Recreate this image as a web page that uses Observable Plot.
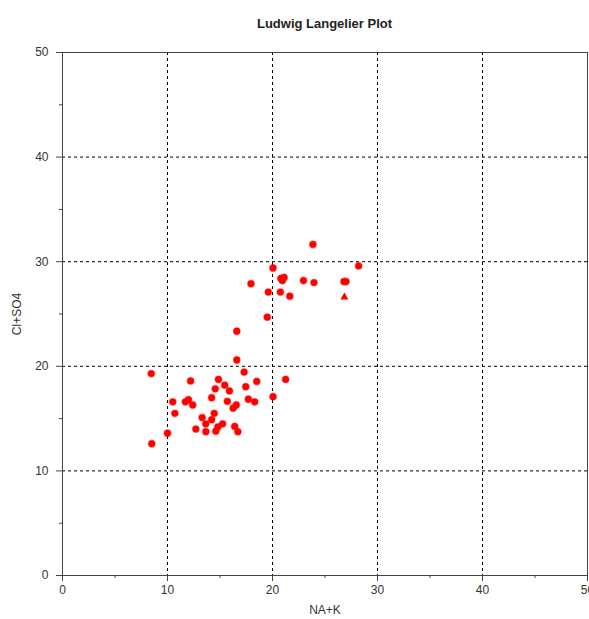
<!DOCTYPE html>
<html>
<head>
<meta charset="utf-8">
<script src="https://cdn.jsdelivr.net/npm/d3@7"></script>
<script src="https://cdn.jsdelivr.net/npm/@observablehq/plot@0.6"></script>
<style>
  html, body { margin: 0; padding: 0; background: #fff; overflow: hidden; }
  #wrap { position: relative; width: 589px; height: 619px; }
  #title { position: absolute; left: 0; top: 16px; width: 649px; text-align: center;
           font: bold 13px "Liberation Sans", Arial, sans-serif; color: #222; }
  #chart { position: absolute; left: 0; top: 0; }
</style>
</head>
<body>
<div id="wrap">
  <div id="chart"></div>
  <div id="title">Ludwig Langelier Plot</div>
</div>
<script>
// NA+K values (x)
const naK = [8.45, 8.5, 10.0, 10.5, 10.7, 11.7, 12.0, 12.2, 12.4, 12.7,
  13.3, 13.65, 13.65, 14.2, 14.2, 14.45, 14.55, 14.6, 14.8, 14.85,
  15.25, 15.45, 15.7, 15.9, 16.25, 16.4, 16.55, 16.7, 16.6, 17.3,
  17.45, 17.7, 18.3, 18.5, 20.05, 21.25, 16.6, 19.5, 17.95, 19.6,
  20.75, 21.65, 20.05, 20.8, 21.1, 20.95, 22.95, 23.95, 23.85, 26.8,
  27.0, 28.2];
// Cl+SO4 values (y)
const clSO4 = [19.3, 12.6, 13.6, 16.6, 15.5, 16.6, 16.8, 18.6, 16.3, 14.0,
  15.1, 14.5, 13.75, 14.9, 17.0, 15.5, 17.85, 13.8, 14.2, 18.75,
  14.5, 18.2, 16.65, 17.65, 16.0, 14.25, 16.3, 13.75, 20.6, 19.45,
  18.05, 16.85, 16.6, 18.55, 17.1, 18.75, 23.35, 24.7, 27.9, 27.1,
  27.1, 26.7, 29.4, 28.4, 28.5, 28.2, 28.2, 28.0, 31.65, 28.1,
  28.1, 29.6];
// triangle-marker sample
const triNaK = [26.85];
const triClSO4 = [26.6];

const majorTicks = [0, 10, 20, 30, 40, 50];
const minorTicks = [5, 15, 25, 35, 45];
const gridTicks = [10, 20, 30, 40];

const pts = naK.map((x, i) => ({x, y: clSO4[i]}));
const tri = triNaK.map((x, i) => ({x, y: triClSO4[i]}));

const chart = Plot.plot({
  width: 589,
  height: 619,
  marginLeft: 62,
  marginRight: 2,
  marginTop: 52,
  marginBottom: 44,
  style: {fontSize: "12px", fontFamily: "'Liberation Sans', Arial, sans-serif", color: "#333", background: "transparent", overflow: "visible"},
  x: {domain: [0, 50]},
  y: {domain: [0, 50]},
  marks: [
    Plot.gridX(gridTicks, {stroke: "#000", strokeOpacity: 1, strokeDasharray: "3,3"}),
    Plot.gridY(gridTicks, {stroke: "#000", strokeOpacity: 1, strokeDasharray: "3,3"}),
    Plot.frame({stroke: "#444"}),
    Plot.axisX(majorTicks, {tickSize: 6, tickPadding: 4, stroke: "#444", label: "NA+K", labelAnchor: "center", labelArrow: "none", labelOffset: 38}),
    Plot.axisX(minorTicks, {tickSize: 3, stroke: "#444", tickFormat: () => "", label: null}),
    Plot.axisY(majorTicks, {tickSize: 6, tickPadding: 8, stroke: "#444", label: "Cl+SO4", labelAnchor: "center", labelArrow: "none", labelOffset: 50}),
    Plot.axisY(minorTicks, {tickSize: 3, stroke: "#444", tickFormat: () => "", label: null}),
    Plot.dot(pts, {x: "x", y: "y", r: 3.4, fill: "red", stroke: "rgba(255,0,0,0.35)", strokeWidth: 1.6}),
    Plot.dot(tri, {x: "x", y: "y", r: 3, symbol: "triangle", fill: "red", stroke: "none"})
  ]
});
document.getElementById("chart").appendChild(chart);
</script>
</body>
</html>
